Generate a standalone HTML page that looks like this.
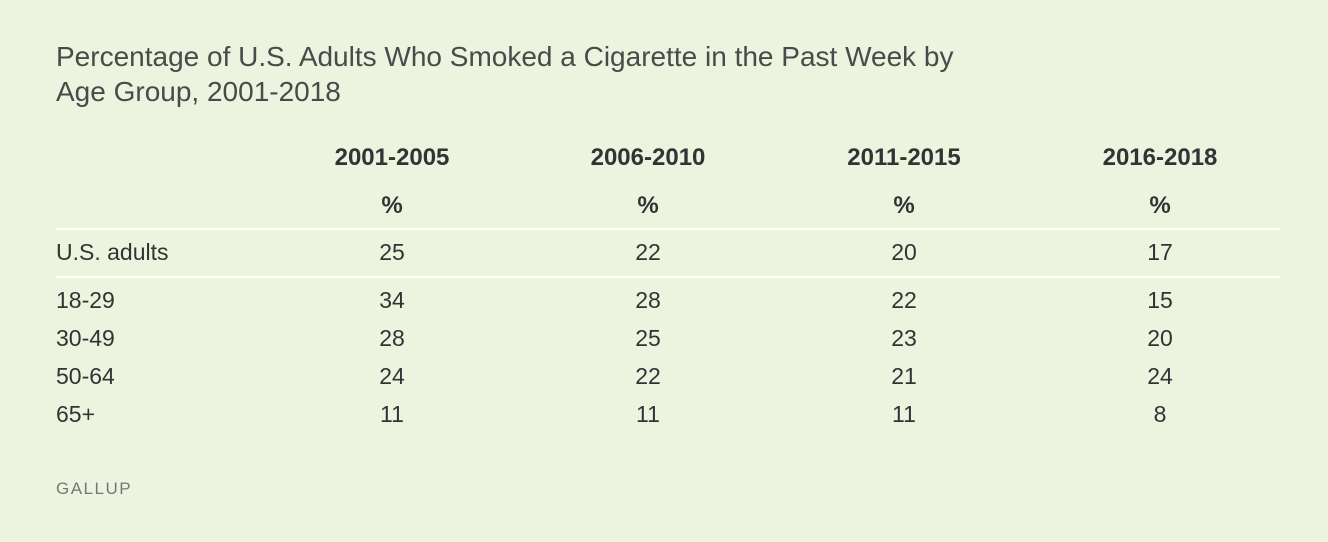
<!DOCTYPE html>
<html><head><meta charset="utf-8"><style>
body{margin:0;width:1328px;height:542px;background:#ecf3df;font-family:"Liberation Sans",sans-serif;color:#333;position:relative;overflow:hidden}
.t{position:absolute;white-space:nowrap}
.title{left:56px;top:39px;font-size:28px;line-height:35px;color:#4a4a4a}
.c{transform:translateX(-50%);font-size:23px}
.b{font-weight:bold;font-size:24px}
.line{position:absolute;left:56px;width:1224px;height:2px;background:#fff}
.g{left:56px;top:479px;font-size:17px;letter-spacing:1.5px;color:#777}
</style></head><body>
<div class="t title">Percentage of U.S. Adults Who Smoked a Cigarette in the Past Week by<br>Age Group, 2001-2018</div>
<div class="line" style="top:228px"></div>
<div class="line" style="top:276px"></div>
<div id="tbl"></div>
<div class="t g">GALLUP</div>
<script>
const periods=["2001-2005","2006-2010","2011-2015","2016-2018"];
const rowLabels=["U.S. adults","18-29","30-49","50-64","65+"];
const v0=[25,22,20,17];
const v1=[34,28,22,15];
const v2=[28,25,23,20];
const v3=[24,22,21,24];
const v4=[11,11,11,8];
const rowsVals=[v0,v1,v2,v3,v4];
const colX=i=>392+i*256;
const rowY=[253,301,339,377,415];
const tbl=document.getElementById('tbl');
function add(txt,x,y,cls,name){const d=document.createElement('div');d.className='t '+cls;d.textContent=txt;d.style.left=x+'px';d.style.top=(y-14)+'px';


tbl.appendChild(d);}
periods.forEach((p,i)=>{add(p,colX(i),158,'c b','column-header');add('%',colX(i),206,'c b','unit-label');});
rowLabels.forEach((r,j)=>{add(r,56,rowY[j],'','row-label');const d=tbl.lastChild;d.style.fontSize='23px';
rowsVals[j].forEach((v,i)=>add(String(v),colX(i),rowY[j],'c','cell-value'));});
</script>
</body></html>
